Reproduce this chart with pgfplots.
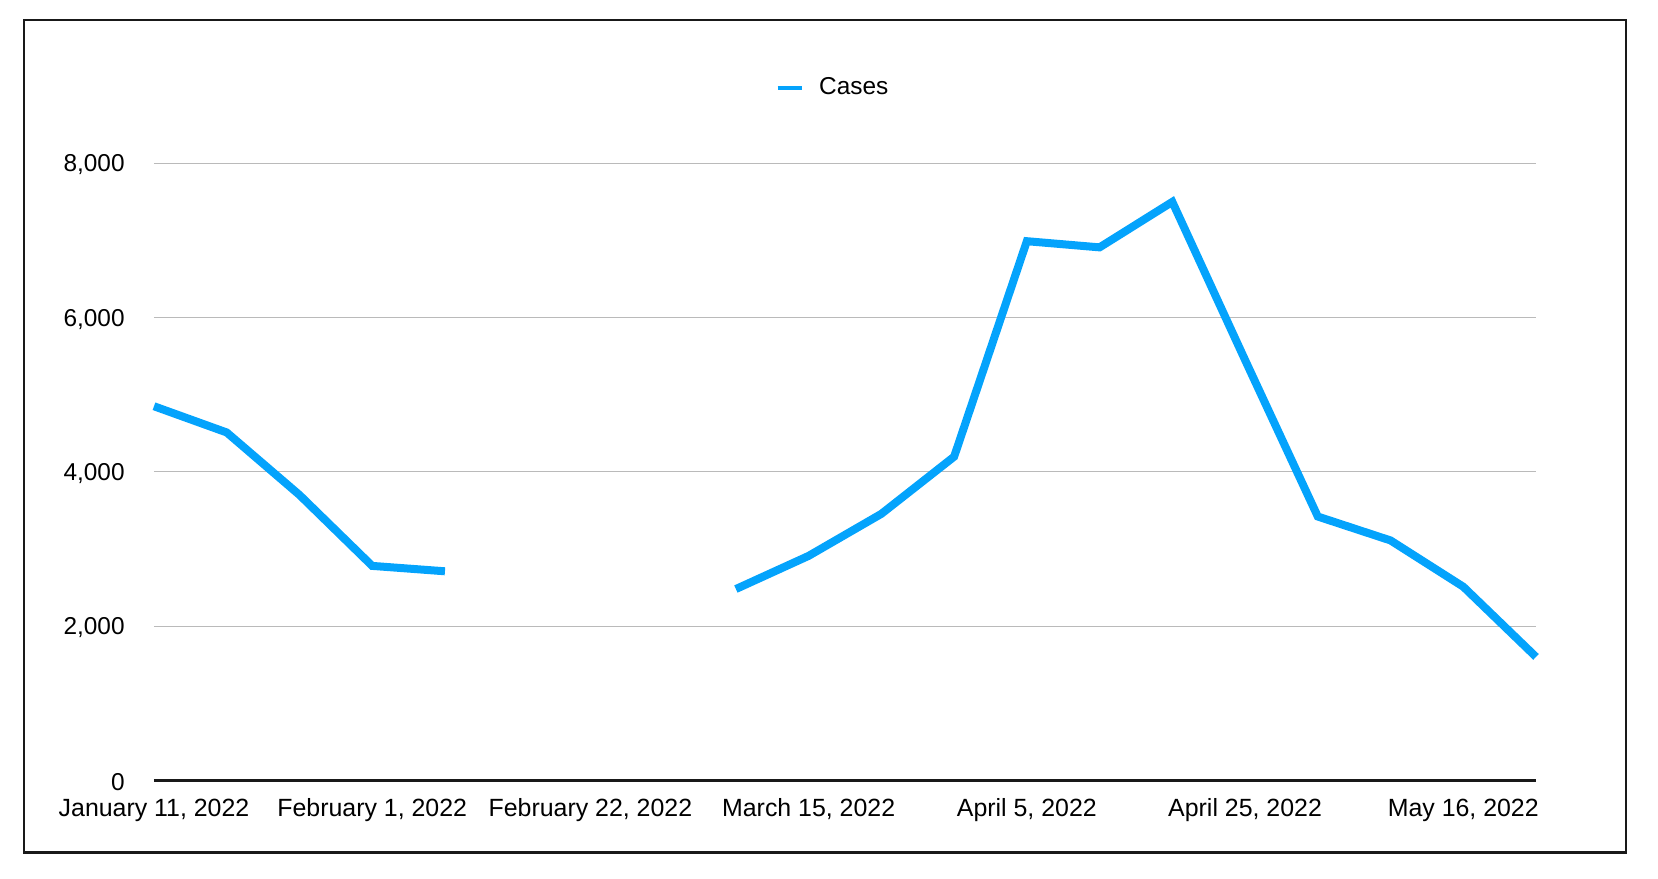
\documentclass[border=0pt]{standalone}
\usepackage{pgfplots}
\pgfplotsset{compat=1.18}
\usepackage{fontspec}
\setmainfont{Liberation Sans}
\definecolor{caseblue}{RGB}{4,163,252}
\pgfplotstableread{
x y
0 4850
1 4510
2 3700
3 2780
4 2710
5 nan
6 nan
7 nan
8 2480
9 2910
10 3455
11 4196
12 6990
13 6910
14 7500
15 5450
16 3420
17 3110
18 2510
19 1600
}\cases
\begin{document}
\fontsize{12pt}{14pt}\selectfont
\begin{tikzpicture}
\useasboundingbox (-77pt,-48.85pt) rectangle (752pt,390.15pt);
\draw[line width=1.3pt, black!90] (-65pt,-36.1pt) rectangle (736pt,380.15pt);
\begin{axis}[
  at={(0pt,0pt)}, anchor=south west,
  scale only axis,
  width=691pt, height=308.5pt,
  xmin=0, xmax=19, ymin=0, ymax=8000,
  axis line style={draw=none},
  major tick length=0pt,
  ytick={0,2000,4000,6000,8000},
  ymajorgrids,
  grid style={line width=0.5pt, black!27},
  extra y ticks={0},
  extra y tick labels={},
  extra y tick style={grid style={line width=1.6pt, black!90}},
  xtick={0,3,6,9,12,15,18},
  xticklabels={{January 11, 2022},{February 1, 2022},{February 22, 2022},{March 15, 2022},{April 5, 2022},{April 25, 2022},{May 16, 2022}},
  xticklabel style={anchor=north, inner sep=0pt, yshift=-9pt, font=\fontsize{12.45pt}{14pt}\selectfont},
  yticklabel style={anchor=east, inner sep=0pt, xshift=-14.5pt, yshift=-0.8pt, font=\fontsize{12.2pt}{14pt}\selectfont},
  /pgf/number format/.cd, 1000 sep={,}, assume math mode=true,
  /pgfplots/.cd,
  unbounded coords=jump,
  clip=false,
  legend style={at={(0.492,1.122)}, anchor=center, draw=none, fill=none,
    font=\fontsize{12.2pt}{14pt}\selectfont, inner sep=0pt,
    /tikz/every even column/.style={column sep=0pt}},
  legend image code/.code={\draw[line width=2pt, caseblue] (0pt,0pt) -- (12pt,0pt); \path (16.8pt,0pt);},
]
\addplot[caseblue, line width=4pt, line join=miter, line cap=butt] table[x=x,y=y] {\cases};
\addlegendentry{Cases}
\end{axis}
\end{tikzpicture}
\end{document}
